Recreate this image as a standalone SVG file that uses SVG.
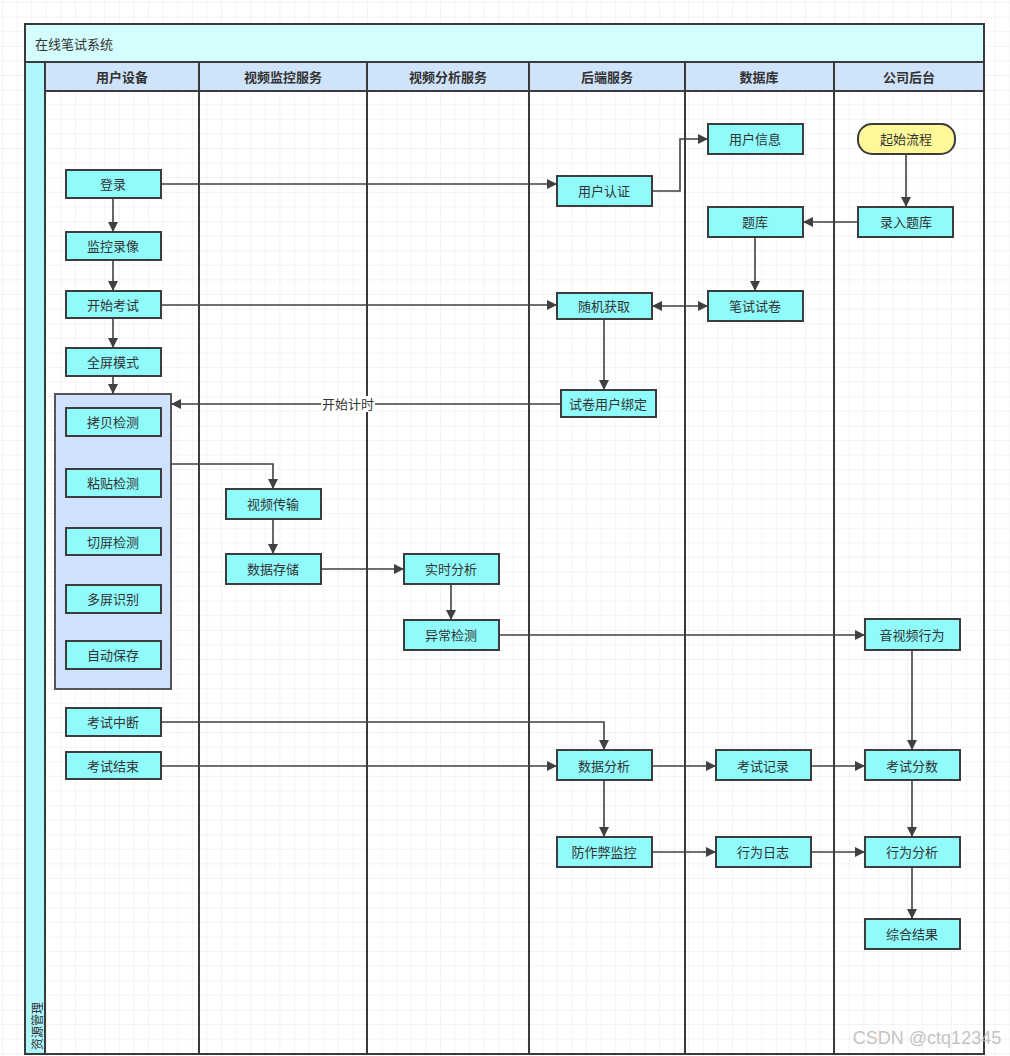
<svg xmlns="http://www.w3.org/2000/svg" width="1010" height="1056" viewBox="0 0 1010 1056">
<defs>
<pattern id="grid" width="14.6" height="14.6" patternUnits="userSpaceOnUse" x="3" y="3">
<path d="M14.6 0V14.6H0" fill="none" stroke="#e8e8e8" stroke-width="1"/>
</pattern>
<marker id="arr" viewBox="0 0 10 10" refX="10" refY="5" markerWidth="10" markerHeight="10" markerUnits="userSpaceOnUse" orient="auto-start-reverse">
<path d="M0 0L10 5L0 10Z" fill="#404040"/>
</marker>
<style>
.lane{fill:none;stroke:#3a3a3a;stroke-width:2}
.hdr{fill:#cfe3fb;stroke:#3a3a3a;stroke-width:2}
.n rect{fill:#8ffbfb;stroke:#3c3c3c;stroke-width:2}
text{font-family:"Noto Sans CJK SC","Liberation Sans",sans-serif;font-size:13px;fill:#333;text-anchor:middle;dominant-baseline:central}
.h text{font-weight:bold;font-size:13px}
.e path{fill:none;stroke:#404040;stroke-width:1.6;marker-end:url(#arr)}
</style>
</defs>
<rect width="1010" height="1056" fill="#ffffff"/>
<rect width="1010" height="1056" fill="url(#grid)"/>

<g id="pool">
<rect x="25" y="24" width="959" height="1030" fill="none" stroke="#3a3a3a" stroke-width="2"/>
<rect x="25" y="24" width="959" height="38" fill="#d4fdfd" stroke="#3a3a3a" stroke-width="2"/>
<text x="35" y="43" style="text-anchor:start">在线笔试系统</text>
<rect x="25" y="62" width="20" height="992" fill="#adf7fa" stroke="#3a3a3a" stroke-width="2"/>
<text transform="translate(36,1026) rotate(-90)" style="font-size:12px">资源管理</text>
</g>

<g id="lanes" class="h">
<rect class="hdr" x="45" y="62" width="154" height="29"/>
<rect class="hdr" x="199" y="62" width="168" height="29"/>
<rect class="hdr" x="367" y="62" width="162" height="29"/>
<rect class="hdr" x="529" y="62" width="156" height="29"/>
<rect class="hdr" x="685" y="62" width="149" height="29"/>
<rect class="hdr" x="834" y="62" width="150" height="29"/>
<rect class="lane" x="45" y="91" width="154" height="963"/>
<rect class="lane" x="199" y="91" width="168" height="963"/>
<rect class="lane" x="367" y="91" width="162" height="963"/>
<rect class="lane" x="529" y="91" width="156" height="963"/>
<rect class="lane" x="685" y="91" width="149" height="963"/>
<rect class="lane" x="834" y="91" width="150" height="963"/>
<text x="122" y="76">用户设备</text>
<text x="283" y="76">视频监控服务</text>
<text x="448" y="76">视频分析服务</text>
<text x="607" y="76">后端服务</text>
<text x="759" y="76">数据库</text>
<text x="909" y="76">公司后台</text>
</g>

<g id="container"><rect x="55" y="394" width="116" height="295" fill="#d0e2fb" stroke="#555" stroke-width="2"/></g>

<g id="edges" class="e">
<path d="M161 184H557"/>
<path d="M652 191H680V139H708"/>
<path d="M113 198V232"/>
<path d="M113 260V291"/>
<path d="M161 305H557"/>
<path d="M113 318V348"/>
<path d="M113 376V394"/>
<path d="M652 306H708" style="marker-start:url(#arr)"/>
<path d="M755 237V291"/>
<path d="M858 222H803"/>
<path d="M906 154V207"/>
<path d="M604 319V390"/>
<path d="M561 404H171"/>
<path d="M171 464H273V489"/>
<path d="M273 519V554"/>
<path d="M321 569H404"/>
<path d="M451 584V620"/>
<path d="M499 635H865"/>
<path d="M912 650V750"/>
<path d="M161 722H604V750"/>
<path d="M161 766H557"/>
<path d="M652 766H716"/>
<path d="M811 766H865"/>
<path d="M604 780V837"/>
<path d="M652 852H716"/>
<path d="M811 852H865"/>
<path d="M912 780V837"/>
<path d="M912 867V919"/>
<rect x="321" y="396" width="54" height="16" fill="#ffffff"/>
<text x="348" y="403">开始计时</text>
</g>

<g id="n-login" class="n"><rect x="66" y="170" width="95" height="28"/><text x="113" y="183">登录</text></g>
<g id="n-rec" class="n"><rect x="66" y="232" width="95" height="28"/><text x="113" y="245">监控录像</text></g>
<g id="n-start" class="n"><rect x="66" y="291" width="95" height="27"/><text x="113" y="304">开始考试</text></g>
<g id="n-full" class="n"><rect x="66" y="348" width="95" height="28"/><text x="113" y="361">全屏模式</text></g>
<g id="n-copy" class="n"><rect x="66" y="408" width="95" height="28"/><text x="113" y="421">拷贝检测</text></g>
<g id="n-paste" class="n"><rect x="66" y="469" width="95" height="28"/><text x="113" y="482">粘贴检测</text></g>
<g id="n-switch" class="n"><rect x="66" y="528" width="95" height="27"/><text x="113" y="541">切屏检测</text></g>
<g id="n-multi" class="n"><rect x="66" y="585" width="95" height="28"/><text x="113" y="598">多屏识别</text></g>
<g id="n-save" class="n"><rect x="66" y="641" width="95" height="28"/><text x="113" y="654">自动保存</text></g>
<g id="n-break" class="n"><rect x="66" y="708" width="95" height="28"/><text x="113" y="721">考试中断</text></g>
<g id="n-end" class="n"><rect x="66" y="752" width="95" height="27"/><text x="113" y="765">考试结束</text></g>
<g id="n-vtrans" class="n"><rect x="226" y="489" width="95" height="30"/><text x="273" y="503">视频传输</text></g>
<g id="n-store" class="n"><rect x="226" y="554" width="95" height="30"/><text x="273" y="568">数据存储</text></g>
<g id="n-rt" class="n"><rect x="404" y="554" width="95" height="30"/><text x="451" y="568">实时分析</text></g>
<g id="n-abn" class="n"><rect x="404" y="620" width="95" height="30"/><text x="451" y="634">异常检测</text></g>
<g id="n-auth" class="n"><rect x="557" y="176" width="95" height="30"/><text x="604" y="190">用户认证</text></g>
<g id="n-rand" class="n"><rect x="557" y="293" width="95" height="26"/><text x="604" y="305">随机获取</text></g>
<g id="n-bind" class="n"><rect x="561" y="390" width="95" height="27"/><text x="608" y="403">试卷用户绑定</text></g>
<g id="n-da" class="n"><rect x="557" y="750" width="95" height="30"/><text x="604" y="765">数据分析</text></g>
<g id="n-anti" class="n"><rect x="557" y="837" width="95" height="30"/><text x="604" y="851">防作弊监控</text></g>
<g id="n-uinfo" class="n"><rect x="708" y="124" width="95" height="30"/><text x="755" y="138">用户信息</text></g>
<g id="n-bank" class="n"><rect x="708" y="207" width="95" height="30"/><text x="755" y="221">题库</text></g>
<g id="n-paper" class="n"><rect x="708" y="291" width="95" height="30"/><text x="755" y="305">笔试试卷</text></g>
<g id="n-erec" class="n"><rect x="716" y="750" width="95" height="30"/><text x="763" y="765">考试记录</text></g>
<g id="n-blog" class="n"><rect x="716" y="837" width="95" height="30"/><text x="763" y="851">行为日志</text></g>
<g id="n-begin"><rect x="858" y="124" width="97" height="30" rx="14" ry="14" fill="#fff899" stroke="#3c3c3c" stroke-width="2"/><text x="906" y="138">起始流程</text></g>
<g id="n-input" class="n"><rect x="858" y="207" width="95" height="30"/><text x="906" y="221">录入题库</text></g>
<g id="n-av" class="n"><rect x="865" y="619" width="95" height="31"/><text x="912" y="634">音视频行为</text></g>
<g id="n-score" class="n"><rect x="865" y="750" width="95" height="30"/><text x="912" y="765">考试分数</text></g>
<g id="n-ba" class="n"><rect x="865" y="837" width="95" height="30"/><text x="912" y="851">行为分析</text></g>
<g id="n-res" class="n"><rect x="865" y="919" width="95" height="30"/><text x="912" y="933">综合结果</text></g>

<text x="927" y="1038" style="font-family:'Liberation Sans',sans-serif;font-size:18px;fill:#bdbdbd;opacity:0.9">CSDN @ctq12345</text>
</svg>
